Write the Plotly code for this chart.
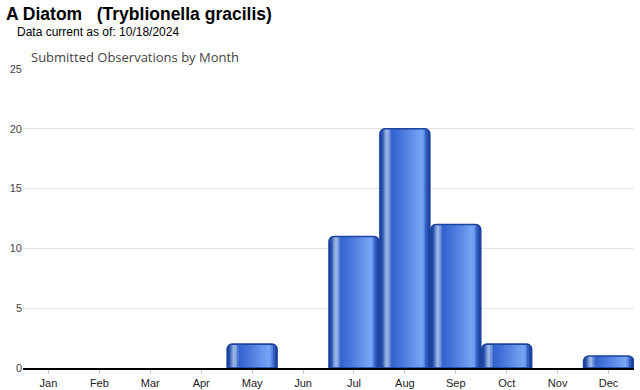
import plotly.graph_objects as go

months = ["Jan", "Feb", "Mar", "Apr", "May", "Jun", "Jul", "Aug", "Sep", "Oct", "Nov", "Dec"]
observations = [0, 0, 0, 0, 2, 0, 11, 20, 12, 2, 0, 1]
y_ticks = [0, 5, 10, 15, 20, 25]

title_text = "<b>A Diatom   (Tryblionella gracilis)</b>"
subtitle_text = "Data current as of: 10/18/2024"
chart_title = "Submitted Observations by Month"

# zero months draw no bar
drawn = [v if v else None for v in observations]

W, H = 640, 390
ML, MR, MT, MB = 22.5, 5.5, 69, 22
PW, PH = W - ML - MR, H - MT - MB


def px_x(x):
    return (x - ML) / PW


def px_y(y):
    return (H - MB - y) / PH


# gradient profile across the bar (relative position -> colour)
stops = [
    (0.00, (26, 70, 160)),
    (0.05, (40, 84, 178)),
    (0.10, (120, 150, 210)),
    (0.14, (172, 196, 234)),
    (0.19, (110, 148, 220)),
    (0.24, (52, 99, 204)),
    (0.35, (62, 110, 214)),
    (0.84, (122, 168, 246)),
    (0.90, (84, 132, 228)),
    (0.95, (40, 84, 180)),
    (1.00, (28, 70, 160)),
]


def colour_at(t):
    for (t0, c0), (t1, c1) in zip(stops[:-1], stops[1:]):
        if t0 <= t <= t1:
            f = (t - t0) / (t1 - t0) if t1 > t0 else 0
            c = [round(a + (b - a) * f) for a, b in zip(c0, c1)]
            return "rgb(%d,%d,%d)" % tuple(c)
    return "rgb(26,70,160)"


bw = 0.98
radius = 5
bar_px = bw * PW / 12
edge = 2.5 / bar_px

fig = go.Figure()
# base rounded bar
fig.add_trace(go.Bar(x=months, y=drawn, width=bw, offset=-bw / 2,
                     marker=dict(color="rgb(30,72,164)", line=dict(width=0), cornerradius=radius),
                     hoverinfo="skip", showlegend=False))
n = 30
for i in range(n):
    t0 = edge + (1 - 2 * edge) * i / n
    t1 = edge + (1 - 2 * edge) * (i + 1) / n
    tm = (t0 + t1) / 2
    w = (t1 - t0) * bw * (1.35 if i < n - 1 else 1.0)
    fig.add_trace(go.Bar(x=months, y=drawn, width=w,
                         offset=-bw / 2 + t0 * bw,
                         marker=dict(color=colour_at(tm), line=dict(width=0)),
                         hoverinfo="skip", showlegend=False))
# border overlay
fig.add_trace(go.Bar(x=months, y=drawn, width=bw, offset=-bw / 2,
                     marker=dict(color="rgba(0,0,0,0)", line=dict(width=1.6, color="rgb(28,68,158)"),
                                 cornerradius=radius),
                     hovertemplate="%{x}: %{y}<extra></extra>", showlegend=False))

fig.update_layout(
    width=W, height=H, barmode="overlay",
    margin=dict(l=ML, r=MR, t=MT, b=MB, autoexpand=False),
    paper_bgcolor="white", plot_bgcolor="white",
    font=dict(family="Arial, Liberation Sans, sans-serif", color="#333"),
    xaxis=dict(type="category", categoryorder="array", categoryarray=months,
               showline=True, linecolor="black", linewidth=2, ticks="outside",
               ticklen=4, tickcolor="#ccc", tickfont=dict(size=11, color="#222"),
               showgrid=False, fixedrange=True),
    yaxis=dict(range=[0, 25], tickvals=y_ticks, showgrid=True, gridcolor="#e3e3e3",
               gridwidth=1, zeroline=False, tickfont=dict(size=11, color="#444"),
               ticks="", fixedrange=True),
    annotations=[
        dict(text=title_text, xref="paper", yref="paper", x=px_x(3), y=px_y(14),
             xanchor="left", yanchor="middle", showarrow=False,
             font=dict(size=17.5, color="black", family="Arial, Liberation Sans, sans-serif")),
        dict(text=subtitle_text, xref="paper", yref="paper", x=px_x(14), y=px_y(32),
             xanchor="left", yanchor="middle", showarrow=False,
             font=dict(size=12, color="black", family="Arial, Liberation Sans, sans-serif")),
        dict(text=chart_title, xref="paper", yref="paper", x=px_x(29), y=px_y(57),
             xanchor="left", yanchor="middle", showarrow=False,
             font=dict(size=13, color="#444", family="Open Sans, sans-serif")),
    ],
)

fig.write_html("out.html", config={"displayModeBar": False})
